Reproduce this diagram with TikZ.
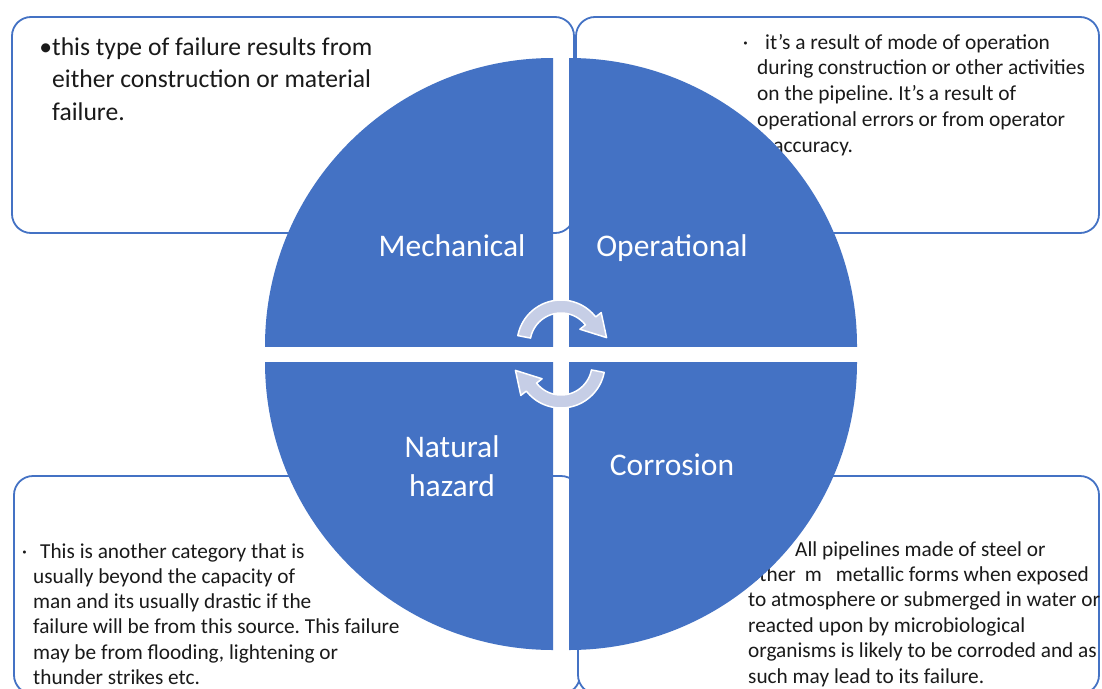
\documentclass[tikz,border=0pt]{standalone}
\usepackage{fontspec}
\setmainfont{Carlito}
\frenchspacing
\definecolor{qblue}{HTML}{4472C4}
\definecolor{boxline}{HTML}{4472C4}
\definecolor{arrowfill}{RGB}{198,206,230}
\definecolor{txt}{HTML}{1A1A1A}
\begin{document}
\begin{tikzpicture}[x=1pt,y=-1pt,
  box/.style={draw=boxline, line width=1.8pt, rounded corners=19pt, fill=white},
  quad/.style={fill=qblue},
  qlabel/.style={text=white, font=\fontsize{31.5}{39}\selectfont, inner sep=0pt, anchor=base},
  para/.style={anchor=base west, inner sep=0pt, text=txt},
  cyc/.style={fill=arrowfill, draw=white, line width=1.5pt, line join=round}]
\clip (0,0) rectangle (1102,688);
\fill[white] (0,0) rectangle (1102,688);
% text boxes
\draw[box] (12,17) rectangle (574,233);
\draw[box] (576,17) rectangle (1099,233);
\draw[box] (14,476) rectangle (580,694);
\draw[box] (578,476) rectangle (1099,694);
% box texts
\node[para, font=\fontsize{25.6}{32.5}\selectfont] (tltext) at (52,55)
  {\parbox[t]{500pt}{\raggedright\leavevmode\llap{•}this type of failure results from\\either construction or material\\failure.}};
\node[para, font=\fontsize{21.4}{25.8}\selectfont] (trtext) at (757,49)
  {\parbox[t]{500pt}{\raggedright\leavevmode\llap{·\hspace{9pt}}\hspace*{8pt}it’s a result of mode of operation\\during construction or other activities\\on the pipeline. It’s a result of\\operational errors or from operator\\inaccuracy.}};
\node[para, font=\fontsize{21.3}{25.3}\selectfont] (bltext) at (33,558)
  {\parbox[t]{500pt}{\raggedright\leavevmode\llap{·\hspace{6pt}}\hspace*{7pt}This is another category that is\\usually beyond the capacity of\\man and its usually drastic if the\\failure will be from this source. This failure\\may be from flooding, lightening or\\thunder strikes etc.}};
\node[para, font=\fontsize{21.3}{25.4}\selectfont] (brtext) at (748,556)
  {\parbox[t]{500pt}{\raggedright\leavevmode\hspace*{47pt}All pipelines made of steel or\\other\hspace{9pt}m\hspace{14pt}metallic forms when exposed\\to atmosphere or submerged in water or\\reacted upon by microbiological\\organisms is likely to be corroded and as\\such may lead to its failure.}};
% quadrants
\begin{scope}
  \clip (200,0) rectangle (553,346);
  \fill[quad] (553,346) circle (288pt);
\end{scope}
\begin{scope}
  \clip (569,0) rectangle (950,346);
  \fill[quad] (569,346) circle (288pt);
\end{scope}
\begin{scope}
  \clip (200,362) rectangle (553,700);
  \fill[quad] (553,362) circle (288pt);
\end{scope}
\begin{scope}
  \clip (569,362) rectangle (950,700);
  \fill[quad] (569,362) circle (288pt);
\end{scope}
% quadrant labels
\node[qlabel] (mech) at (452,256) {Mechanical};
\node[qlabel] (oper) at (672,256) {Operational};
\node[qlabel] (nat) at (452,457) {\parbox[t]{200pt}{\centering Natural\\hazard}};
\node[qlabel] (corr) at (672,475) {Corrosion};
% cycle arrows
\begin{scope}[shift={(561,344)}]
  \path[cyc] plot[domain=191:322, samples=40] (\x:44) -- (322:51) -- (352:46) -- (322:24)
    -- plot[domain=322:191, samples=40] (\x:31) -- cycle;
\end{scope}
\begin{scope}[shift={(561,364)}]
  \path[cyc] plot[domain=11:142, samples=40] (\x:44) -- (142:51) -- (172:46) -- (142:24)
    -- plot[domain=142:11, samples=40] (\x:31) -- cycle;
\end{scope}
\end{tikzpicture}
\end{document}
